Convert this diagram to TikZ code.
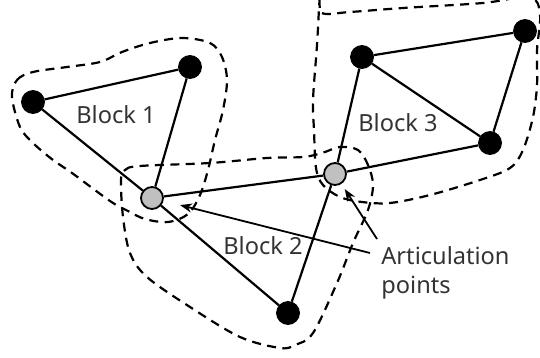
\documentclass[tikz,border=0pt]{standalone}
\usepackage{fontspec}
\setmainfont{Noto Sans}
\usepackage{tikz}
\usetikzlibrary{arrows.meta}
\definecolor{txtgray}{HTML}{333333}
\definecolor{artgray}{HTML}{C0C0C0}

\begin{document}
\begin{tikzpicture}[x=0.5pt, y=-0.5pt,
    vert/.style={circle, fill=black, draw=black, inner sep=0pt, minimum size=11.5pt},
    artic/.style={circle, fill=artgray, draw=black, line width=0.9pt, inner sep=0pt, minimum size=11pt},
    edge/.style={line width=1.1pt},
    blob/.style={line width=1.1pt, dash pattern=on 4.5pt off 3.2pt},
    lbl/.style={text=txtgray, font=\fontsize{11.8}{14.2}\selectfont},
    pointer/.style={line width=0.9pt, -{Stealth[length=6pt, width=4.5pt]}}]
    \useasboundingbox (0,0) rectangle (540,358);
    \clip (0,0) rectangle (540,358);

    % blocks
    \draw[blob] plot[smooth cycle, tension=0.55] coordinates {
        (12,97) (17,80) (33,72) (67,67) (100,62) (122,52) (150,43) (182,38)
        (210,43) (222,57) (227,80) (223,110) (215,140) (208,170) (200,195)
        (188,214) (168,222) (145,219) (128,211) (110,201) (72,173) (53,160)
        (33,143) (20,127)};
    \draw[blob] plot[smooth cycle, tension=0.55] coordinates {
        (121,180) (125,170) (140,166) (210,163) (267,158) (303,157) (322,153)
        (340,147) (358,150) (368,165) (373,185) (368,210) (353,243) (337,283)
        (313,333) (295,345) (280,348) (240,337) (190,307) (147,277) (130,253)
        (123,217)};
    \draw[blob] plot[smooth cycle, tension=0.55] coordinates {
        (320,-5) (322,13) (350,12) (403,8) (483,3) (530,-3) (540,15) (537,50)
        (537,85) (533,117) (523,150) (510,168) (480,180) (430,195) (390,203)
        (362,202) (340,197) (323,185) (316,168) (314,130) (313,100) (317,45)};

    % vertices
    \node[vert] (a) at (33,102) {};
    \node[vert] (b) at (190,67) {};
    \node[artic] (c1) at (152,198) {};
    \node[artic] (c2) at (335,174) {};
    \node[vert] (d) at (362,57) {};
    \node[vert] (e) at (525,31) {};
    \node[vert] (f) at (490,143) {};
    \node[vert] (g) at (288,313) {};

    % edges
    \draw[edge] (a) -- (b);
    \draw[edge] (a) -- (c1);
    \draw[edge] (b) -- (c1);
    \draw[edge] (c1) -- (c2);
    \draw[edge] (c1) -- (g);
    \draw[edge] (c2) -- (g);
    \draw[edge] (c2) -- (d);
    \draw[edge] (c2) -- (f);
    \draw[edge] (d) -- (e);
    \draw[edge] (d) -- (f);
    \draw[edge] (e) -- (f);

    % labels
    \node[lbl] (blk1) at (116,115) {Block 1};
    \node[lbl] (blk2) at (263,246) {Block 2};
    \node[lbl] (blk3) at (398,123) {Block 3};
    \node[lbl, align=left, anchor=west, inner sep=0pt] (art) at (381,273) {Articulation\\points};

    \coordinate (t1) at (370,253);
    \coordinate (t2) at (377,239);
    \draw[pointer, shorten >=8.5pt] (t1) -- (c1);
    \draw[pointer, shorten >=3pt] (t2) -- (c2);
\end{tikzpicture}
\end{document}
